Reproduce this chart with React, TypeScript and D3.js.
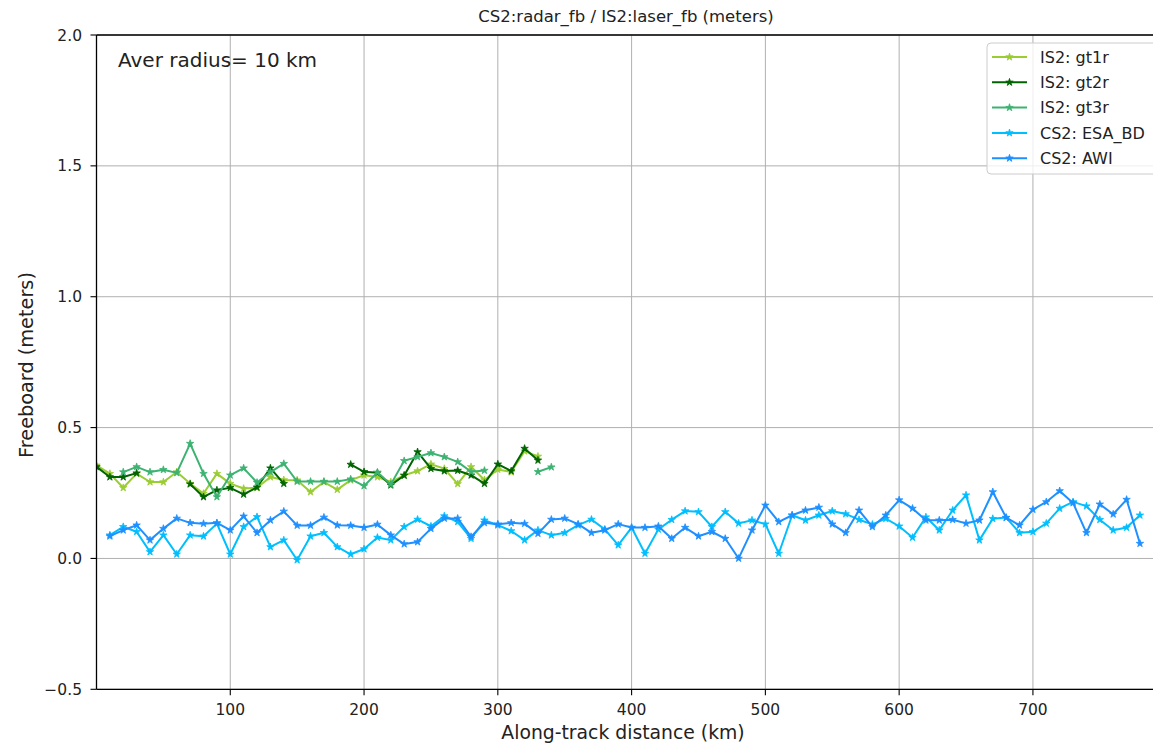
import React from "react";
import * as d3 from "d3";

// along-track distance of the IS2 samples (km)
const is2Km = [0, 10, 20, 30, 40, 50, 60, 70, 80, 90, 100, 110, 120, 130, 140, 150, 160, 170,
  180, 190, 200, 210, 220, 230, 240, 250, 260, 270, 280, 290, 300, 310, 320, 330, 340];

const gt1r = [0.356, 0.324, 0.27, 0.324, 0.292, 0.292, 0.33, 0.286, 0.248, 0.324, 0.286, 0.267,
  0.27, 0.311, 0.3, 0.299, 0.254, 0.292, 0.263, 0.299, 0.318, 0.311, 0.292, 0.318, 0.334, 0.36,
  0.343, 0.285, 0.35, 0.3, 0.34, 0.33, 0.41, 0.39, null];

const gt2r = [0.35, 0.311, 0.311, 0.326, null, null, null, 0.284, 0.235, 0.261, 0.27, 0.245,
  0.272, 0.345, 0.286, null, null, null, null, 0.359, 0.331, 0.327, 0.28, 0.317, 0.407, 0.343,
  0.334, 0.336, 0.318, 0.286, 0.36, 0.334, 0.42, 0.375, null];

const gt3r = [null, null, 0.33, 0.35, 0.33, 0.339, 0.327, 0.439, 0.324, 0.235, 0.318, 0.345,
  0.29, 0.33, 0.362, 0.294, 0.294, 0.294, 0.294, 0.303, 0.277, 0.329, 0.283, 0.373, 0.388, 0.403,
  0.388, 0.369, 0.331, 0.336, null, null, null, 0.331, 0.349];

// along-track distance of the CS2 samples (km)
const cs2Km = [10, 20, 30, 40, 50, 60, 70, 80, 90, 100, 110, 120, 130, 140, 150, 160, 170, 180,
  190, 200, 210, 220, 230, 240, 250, 260, 270, 280, 290, 300, 310, 320, 330, 340, 350, 360, 370,
  380, 390, 400, 410, 420, 430, 440, 450, 460, 470, 480, 490, 500, 510, 520, 530, 540, 550, 560,
  570, 580, 590, 600, 610, 620, 630, 640, 650, 660, 670, 680, 690, 700, 710, 720, 730, 740, 750,
  760, 770, 780];

const esaBd = [0.089, 0.121, 0.102, 0.025, 0.089, 0.016, 0.089, 0.085, 0.133, 0.016, 0.121,
  0.159, 0.044, 0.07, -0.006, 0.085, 0.098, 0.044, 0.016, 0.036, 0.08, 0.07, 0.121, 0.149, 0.123,
  0.162, 0.14, 0.076, 0.146, 0.127, 0.105, 0.07, 0.108, 0.089, 0.098, 0.127, 0.149, 0.111, 0.051,
  0.118, 0.019, 0.111, 0.148, 0.181, 0.178, 0.121, 0.178, 0.134, 0.146, 0.131, 0.019, 0.165,
  0.146, 0.165, 0.181, 0.17, 0.148, 0.13, 0.152, 0.123, 0.08, 0.158, 0.108, 0.184, 0.242, 0.07,
  0.152, 0.156, 0.098, 0.102, 0.134, 0.191, 0.216, 0.2, 0.148, 0.108, 0.118, 0.165];

const awi = [0.085, 0.108, 0.127, 0.07, 0.114, 0.153, 0.136, 0.133, 0.136, 0.108, 0.161, 0.098,
  0.146, 0.18, 0.126, 0.126, 0.157, 0.127, 0.126, 0.118, 0.13, 0.089, 0.055, 0.063, 0.114, 0.153,
  0.153, 0.083, 0.136, 0.131, 0.136, 0.133, 0.095, 0.149, 0.153, 0.131, 0.098, 0.108, 0.131,
  0.118, 0.118, 0.123, 0.076, 0.118, 0.085, 0.102, 0.076, 0.0, 0.108, 0.203, 0.14, 0.165, 0.184,
  0.195, 0.131, 0.098, 0.184, 0.121, 0.165, 0.223, 0.191, 0.146, 0.146, 0.148, 0.134, 0.146,
  0.254, 0.156, 0.127, 0.187, 0.216, 0.258, 0.212, 0.098, 0.207, 0.169, 0.225, 0.057];

const xTicks = [100, 200, 300, 400, 500, 600, 700];
const yTicks = [-0.5, 0.0, 0.5, 1.0, 1.5, 2.0];

const series = [
  { name: "IS2: gt1r", color: "#9acd32", xs: is2Km, ys: gt1r },
  { name: "IS2: gt2r", color: "#006400", xs: is2Km, ys: gt2r },
  { name: "IS2: gt3r", color: "#3cb371", xs: is2Km, ys: gt3r },
  { name: "CS2: ESA_BD", color: "#00bfff", xs: cs2Km, ys: esaBd },
  { name: "CS2: AWI", color: "#1e90ff", xs: cs2Km, ys: awi },
];

const W = 1153;
const H = 745;
const FONT = "DejaVu Sans, sans-serif";
const TXT = "#222";

export default function App() {
  const x = d3.scaleLinear().domain([0, 792]).range([96.5, 1156]);
  const y = d3.scaleLinear().domain([-0.5, 2.0]).range([689.3, 35]);
  const [x0, x1] = x.range();
  const [y0, y1] = y.range();

  const star = d3.symbol().type(d3.symbolStar).size(17)();
  const fmtY = (v: number) => d3.format(".1f")(v).replace("-", "\u2212");

  return (
    <div style={{ position: "absolute", left: 0, top: 0 }}>
      <svg width={W} height={H} style={{ display: "block", background: "#fff" }} fontFamily={FONT}>
        <defs>
          <clipPath id="plot">
            <rect x={x0} y={y1} width={x1 - x0} height={y0 - y1} />
          </clipPath>
        </defs>

        {/* grid */}
        <g stroke="#b0b0b0" strokeWidth={1}>
          {xTicks.map((t) => (
            <line key={"gx" + t} x1={x(t)} x2={x(t)} y1={y1} y2={y0} />
          ))}
          {yTicks.map((t) => (
            <line key={"gy" + t} x1={x0} x2={x1} y1={y(t)} y2={y(t)} />
          ))}
        </g>

        {/* series */}
        <g clipPath="url(#plot)">
          {series.map((s) => {
            const pts = s.xs.map((k, i) => [k, s.ys[i]] as [number, number | null]);
            const line = d3
              .line<[number, number | null]>()
              .defined((d) => d[1] !== null)
              .x((d) => x(d[0]))
              .y((d) => y(d[1] as number));
            return (
              <g key={s.name}>
                <path d={line(pts) || ""} fill="none" stroke={s.color} strokeWidth={2} strokeLinejoin="round" />
                {pts
                  .filter((d) => d[1] !== null)
                  .map((d, i) => (
                    <path key={i} d={star || ""} transform={`translate(${x(d[0])},${y(d[1] as number)})`} fill={s.color} stroke={s.color} strokeWidth={0.8} />
                  ))}
              </g>
            );
          })}
        </g>

        {/* spines */}
        <g stroke="#000" strokeWidth={1.3} fill="none">
          <line x1={x0} x2={x0} y1={y1} y2={y0} />
          <line x1={x0} x2={x1} y1={y0} y2={y0} />
          <line x1={x0} x2={x1} y1={y1} y2={y1} />
        </g>

        {/* x axis */}
        {xTicks.map((t) => (
          <g key={"xt" + t}>
            <line x1={x(t)} x2={x(t)} y1={y0} y2={y0 + 6} stroke="#000" strokeWidth={1.1} />
            <text x={x(t)} y={715} textAnchor="middle" fontSize={15.5} fill={TXT}>
              {t}
            </text>
          </g>
        ))}
        {/* y axis */}
        {yTicks.map((t) => (
          <g key={"yt" + t}>
            <line x1={x0 - 6} x2={x0} y1={y(t)} y2={y(t)} stroke="#000" strokeWidth={1.1} />
            <text x={82} y={y(t)} dy="0.36em" textAnchor="end" fontSize={15.5} fill={TXT}>
              {fmtY(t)}
            </text>
          </g>
        ))}

        <text x={626} y={22} textAnchor="middle" fontSize={16.5} fill={TXT}>
          CS2:radar_fb / IS2:laser_fb (meters)
        </text>
        <text x={623} y={739} textAnchor="middle" fontSize={18.8} fill={TXT}>
          Along-track distance (km)
        </text>
        <text transform="translate(33,365) rotate(-90)" textAnchor="middle" fontSize={19.3} fill={TXT}>
          Freeboard (meters)
        </text>
        <text x={118} y={67} fontSize={20} fill={TXT}>
          Aver radius= 10 km
        </text>

        {/* legend */}
        <g>
          <rect x={987} y={43} width={180} height={131} rx={4} fill="#fff" fillOpacity={0.8} stroke="#cccccc" strokeWidth={1} />
          {series.map((s, i) => {
            const cy = 57 + i * 25.3;
            return (
              <g key={"lg" + s.name}>
                <line x1={992} x2={1027} y1={cy} y2={cy} stroke={s.color} strokeWidth={2} />
                <path d={star || ""} transform={`translate(1009.5,${cy})`} fill={s.color} stroke={s.color} strokeWidth={0.8} />
                <text x={1040} y={cy} dy="0.36em" fontSize={16} fill={TXT}>
                  {s.name}
                </text>
              </g>
            );
          })}
        </g>
      </svg>
    </div>
  );
}
